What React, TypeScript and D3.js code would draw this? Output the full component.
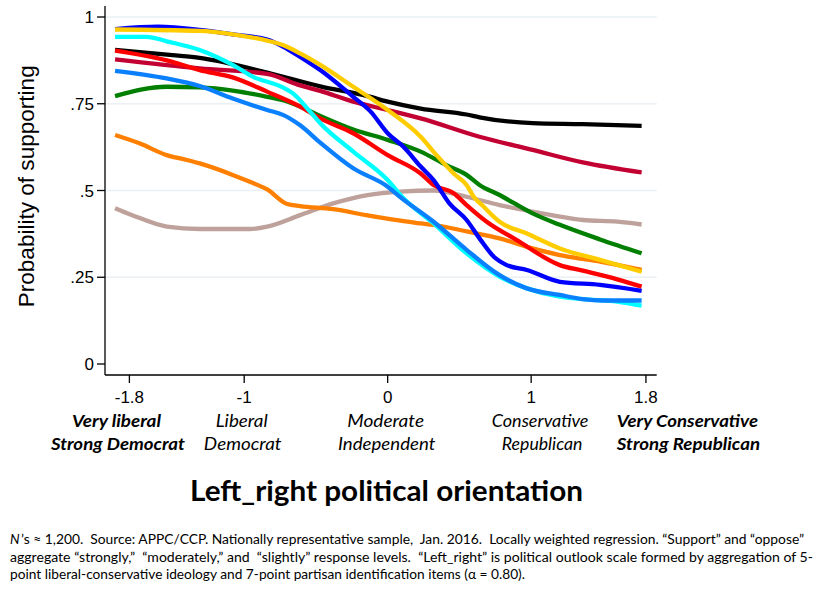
import React from "react";
import * as d3 from "d3";

type Pt = [number, number];

const yTicks = [0, 0.25, 0.5, 0.75, 1];
const yTickLabels = ["0", ".25", ".5", ".75", "1"];
const gridTicks = [0.25, 0.5, 0.75, 1];
const xTicks = [-1.8, -1, 0, 1, 1.8];
const xTickLabels = ["-1.8", "-1", "0", "1", "1.8"];

const catTop = ["Very liberal", "Liberal", "Moderate", "Conservative", "Very Conservative"];
const catBottom = ["Strong Democrat", "Democrat", "Independent", "Republican", "Strong Republican"];
const catBold = [true, false, false, false, true];

const black: Pt[] = [[-1.9,.905],[-1.5,.89],[-1.31,.882],[-0.84,.84],[-0.47,.80],[-0.14,.772],[0,.756],[0.23,.736],[0.55,.719],[0.64,.711],[1.01,.694],[1.36,.691],[1.77,.686]];
const crimson: Pt[] = [[-1.9,.878],[-1.31,.852],[-0.84,.836],[-0.61,.803],[-0.47,.787],[-0.24,.756],[0,.732],[0.23,.708],[0.64,.655],[1.01,.617],[1.36,.581],[1.77,.552]];
const green: Pt[] = [[-1.9,.772],[-1.54,.799],[-1.31,.797],[-1.08,.788],[-0.84,.77],[-0.73,.76],[-0.61,.742],[-0.47,.715],[-0.24,.676],[0,.646],[0.23,.612],[0.41,.573],[0.55,.545],[0.64,.516],[0.78,.487],[1.01,.434],[1.2,.401],[1.48,.359],[1.77,.319]];
const red: Pt[] = [[-1.9,.903],[-1.54,.875],[-1.31,.847],[-1.08,.826],[-0.84,.785],[-0.61,.742],[-0.47,.708],[-0.24,.665],[0,.602],[0.23,.549],[0.32,.516],[0.46,.492],[0.55,.458],[0.69,.41],[0.9,.357],[1.2,.285],[1.36,.269],[1.6,.244],[1.77,.223]];
const blue: Pt[] = [[-1.9,.965],[-1.6,.972],[-1.31,.963],[-1.08,.95],[-0.84,.935],[-0.73,.915],[-0.61,.885],[-0.47,.847],[-0.24,.77],[-0.12,.728],[0,.665],[0.11,.626],[0.23,.569],[0.32,.53],[0.43,.463],[0.55,.415],[0.64,.362],[0.74,.309],[0.83,.285],[0.97,.271],[1.2,.237],[1.48,.228],[1.77,.211]];
const yellow: Pt[] = [[-1.9,.964],[-1.31,.96],[-1.08,.95],[-0.84,.932],[-0.73,.919],[-0.61,.895],[-0.47,.862],[-0.24,.799],[0,.732],[0.23,.655],[0.34,.602],[0.46,.549],[0.55,.516],[0.6,.482],[0.67,.453],[0.78,.41],[0.97,.376],[1.2,.333],[1.48,.30],[1.77,.266]];
const cyan: Pt[] = [[-1.9,.943],[-1.68,.943],[-1.54,.93],[-1.31,.905],[-1.08,.862],[-0.94,.828],[-0.73,.797],[-0.66,.78],[-0.54,.727],[-0.47,.694],[-0.24,.612],[0,.53],[0.1,.482],[0.32,.405],[0.55,.319],[0.78,.252],[0.97,.218],[1.2,.194],[1.36,.187],[1.6,.18],[1.77,.168]];
const dodger: Pt[] = [[-1.9,.845],[-1.54,.823],[-1.31,.801],[-1.08,.765],[-0.84,.732],[-0.73,.718],[-0.61,.688],[-0.47,.638],[-0.24,.564],[0,.511],[0.09,.48],[0.32,.41],[0.55,.329],[0.78,.256],[0.97,.218],[1.2,.199],[1.36,.187],[1.5,.183],[1.77,.183]];
const orange: Pt[] = [[-1.9,.66],[-1.73,.636],[-1.54,.602],[-1.4,.588],[-1.31,.578],[-1.08,.545],[-0.96,.525],[-0.84,.503],[-0.7,.461],[-0.61,.455],[-0.38,.446],[-0.15,.429],[0.09,.413],[0.23,.405],[0.32,.401],[0.55,.382],[0.78,.362],[1.01,.333],[1.2,.314],[1.36,.303],[1.48,.295],[1.77,.271]];
const rosy: Pt[] = [[-1.9,.449],[-1.78,.429],[-1.54,.396],[-1.31,.389],[-0.96,.389],[-0.84,.396],[-0.61,.429],[-0.38,.463],[-0.14,.487],[0.09,.497],[0.32,.50],[0.55,.482],[0.78,.458],[1.01,.439],[1.2,.425],[1.36,.415],[1.6,.41],[1.77,.402]];

const seriesList: { data: Pt[]; color: string }[] = [
  { data: rosy, color: "#bfa19b" },
  { data: orange, color: "#ff8000" },
  { data: black, color: "#000000" },
  { data: crimson, color: "#c20032" },
  { data: green, color: "#007f00" },
  { data: red, color: "#ff0000" },
  { data: cyan, color: "#00ffff" },
  { data: dodger, color: "#0a80ff" },
  { data: blue, color: "#0000ff" },
  { data: yellow, color: "#ffcc00" },
];

const footLines = [
  "’s ≈ 1,200.  Source: APPC/CCP. Nationally representative sample,  Jan. 2016.  Locally weighted regression. “Support” and “oppose”",
  "aggregate “strongly,”  “moderately,” and  “slightly” response levels.  “Left_right” is political outlook scale formed by aggregation of 5-",
  "point liberal-conservative ideology and 7-point partisan identification items (α = 0.80).",
];

// layout (positions of category labels relative to ticks)
const catLayout = [
  { dx: -13, w1: 89, w2: 134 },
  { dx: -2.5, w1: 52, w2: 77.6 },
  { dx: -2, w1: 76.7, w2: 97.3 },
  { dx: 9, w1: 96.7, w2: 80.7 },
  { dx: 41.5, w1: 141.3, w2: 143.3 },
];

export default function App() {
  const W = 823, H = 593;
  const x = d3.scaleLinear().domain([-1.97, 1.875]).range([105, 656.7]);
  const y = d3.scaleLinear().domain([0, 1]).range([364, 17]);
  const yTopPx = 6, xAxisY = 375;
  const line = d3.line<Pt>().x(d => x(d[0])).y(d => y(d[1])).curve(d3.curveMonotoneX);
  const sans = "'Liberation Sans', Arial, sans-serif";
  const cal = "Lato, 'Open Sans', sans-serif";
  const footX = 10;
  const footW = [794, 803, 515];
  const footY = [544.3, 561.7, 579];

  return (
    <svg width={W} height={H} style={{ position: "absolute", left: 0, top: 0, background: "#fff" }}>
      <rect width={W} height={H} fill="#fff" />
      {gridTicks.map(t => (
        <line key={t} x1={x.range()[0]} x2={x.range()[1]} y1={y(t)} y2={y(t)} stroke="#eaf0f3" strokeWidth={1.6} />
      ))}
      {seriesList.map((s, i) => (
        <path key={i} d={line(s.data) || ""} fill="none" stroke={s.color} strokeWidth={4.3} strokeLinejoin="round" strokeLinecap="butt" />
      ))}
      {/* y axis */}
      <line x1={105} x2={105} y1={yTopPx} y2={xAxisY} stroke="#000" strokeWidth={1.3} />
      {yTicks.map((t, i) => (
        <g key={t}>
          <line x1={97} x2={105} y1={y(t)} y2={y(t)} stroke="#000" strokeWidth={1.3} />
          <text x={94} y={y(t) + 6} textAnchor="end" fontFamily={sans} fontSize={17}>{yTickLabels[i]}</text>
        </g>
      ))}
      {/* x axis */}
      <line x1={105} x2={656.7} y1={xAxisY} y2={xAxisY} stroke="#000" strokeWidth={1.3} />
      {xTicks.map((t, i) => (
        <g key={t}>
          <line x1={x(t)} x2={x(t)} y1={xAxisY} y2={xAxisY + 8} stroke="#000" strokeWidth={1.3} />
          <text x={x(t)} y={402.7} textAnchor="middle" fontFamily={sans} fontSize={17}>{xTickLabels[i]}</text>
        </g>
      ))}
      {xTicks.map((t, i) => {
        const L = catLayout[i];
        const cx = x(t) + L.dx;
        const fw = catBold[i] ? 700 : 400;
        return (
          <g key={"c" + t}>
            <text x={cx} y={426.8} textAnchor="middle" fontFamily={cal} fontStyle="italic" fontWeight={fw} fontSize={17.5}
              textLength={L.w1} lengthAdjust="spacingAndGlyphs">{catTop[i]}</text>
            <text x={cx + (i === 3 ? 2 : i === 0 ? 1.5 : 1)} y={450} textAnchor="middle" fontFamily={cal} fontStyle="italic" fontWeight={fw} fontSize={17.5}
              textLength={L.w2} lengthAdjust="spacingAndGlyphs">{catBottom[i]}</text>
          </g>
        );
      })}
      {/* y label */}
      <text transform="translate(33.5,186.3) rotate(-90)" textAnchor="middle" fontFamily={sans} fontSize={21.5}
        textLength={242} lengthAdjust="spacingAndGlyphs">Probability of supporting</text>
      {/* title */}
      <text x={386.5} y={501} textAnchor="middle" fontFamily={cal} fontWeight={700} fontSize={28}
        textLength={393} lengthAdjust="spacingAndGlyphs">Left_right political orientation</text>
      {/* footnote */}
      {footLines.map((s, i) => (
        <text key={i} x={i === 0 ? footX + 11 : footX} y={footY[i]} fontFamily={cal} fontSize={13.5} style={{ whiteSpace: "pre" }}
          textLength={i === 0 ? footW[i] - 11 : footW[i]} lengthAdjust="spacingAndGlyphs">{s}</text>
      ))}
      <text x={footX} y={footY[0]} fontFamily={cal} fontSize={13.5} fontStyle="italic">N</text>
    </svg>
  );
}
